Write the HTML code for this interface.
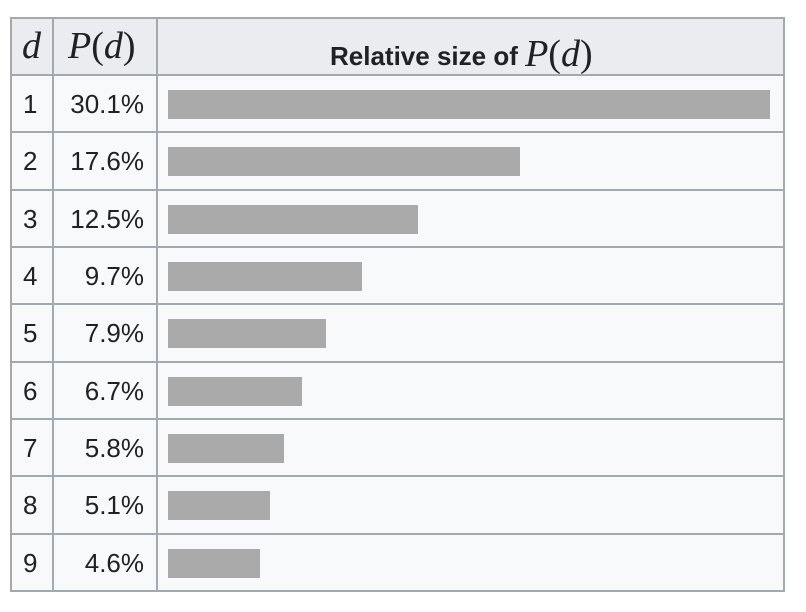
<!DOCTYPE html>
<html><head><meta charset="utf-8"><style>
body{margin:0;width:806px;height:612px;background:#fff;position:relative;font-family:"Liberation Sans",sans-serif;overflow:hidden}
.a{position:absolute;box-sizing:border-box}
.ln{position:absolute;background:#a2a9b1}
.t{position:absolute;font-size:26px;color:#202122;line-height:1}
.m{font-family:"Liberation Serif",serif;font-style:italic;font-size:38px}
</style></head><body>
<div id="tbl"></div>
<script>
const digits=["1","2","3","4","5","6","7","8","9"];
const probs=[30.1,17.6,12.5,9.7,7.9,6.7,5.8,5.1,4.6];
const labels=["30.1%","17.6%","12.5%","9.7%","7.9%","6.7%","5.8%","5.1%","4.6%"];
const T=document.getElementById('tbl');
const L=10,R=785,TOP=17,HB=75,RH=57.33,C1=52,C2=156;
const barX=168,scale=(770-168)/30.1;
function mk(cls,css,txt){const d=document.createElement('div');d.className=cls;d.style.cssText=css;if(txt!==undefined)d.innerHTML=txt;T.appendChild(d);return d;}
const bottom=HB+RH*digits.length;
let h=mk('a',`left:${L}px;top:${TOP}px;width:${R-L}px;height:${HB-TOP}px;background:#eaecf0`);


let b=mk('a',`left:${L}px;top:${HB}px;width:${R-L}px;height:${bottom-HB}px;background:#f8f9fa`);


let t1=mk('t m',`left:22px;top:27px`,'d');


let t2=mk('t m',`left:68px;top:27px;font-style:normal`,'<i>P</i>(<i>d</i>)');


let t3=mk('t',`left:330px;top:34px;font-weight:bold;font-size:26px`,'Relative size of <span class="m" style="font-weight:normal;font-style:normal;position:relative;top:1px"><i>P</i>(<i>d</i>)</span>');


digits.forEach((d,i)=>{
  const y=HB+RH*i;
  let dl=mk('t',`left:23px;top:${y+16}px`,d);
  
  
  let pl=mk('t',`left:${C1}px;width:${C2-C1-12}px;text-align:right;top:${y+16}px`,labels[i]);
  
  
  let bar=mk('a',`left:${barX}px;top:${y+15}px;height:29px;width:${probs[i]*scale}px;background:#aaaaaa`);
  
  
  if(i>0){mk('ln',`left:${L}px;top:${y-1}px;width:${R-L}px;height:2px`);}
});
mk('ln',`left:${L}px;top:${HB-1}px;width:${R-L}px;height:2px`);
mk('ln',`left:${L}px;top:${TOP}px;width:${R-L}px;height:2px`);
mk('ln',`left:${L}px;top:${bottom-1}px;width:${R-L}px;height:2px`);
[L,C1,C2,R-2].forEach(x=>mk('ln',`left:${x}px;top:${TOP}px;width:2px;height:${bottom-TOP}px`));
</script>
</body></html>
